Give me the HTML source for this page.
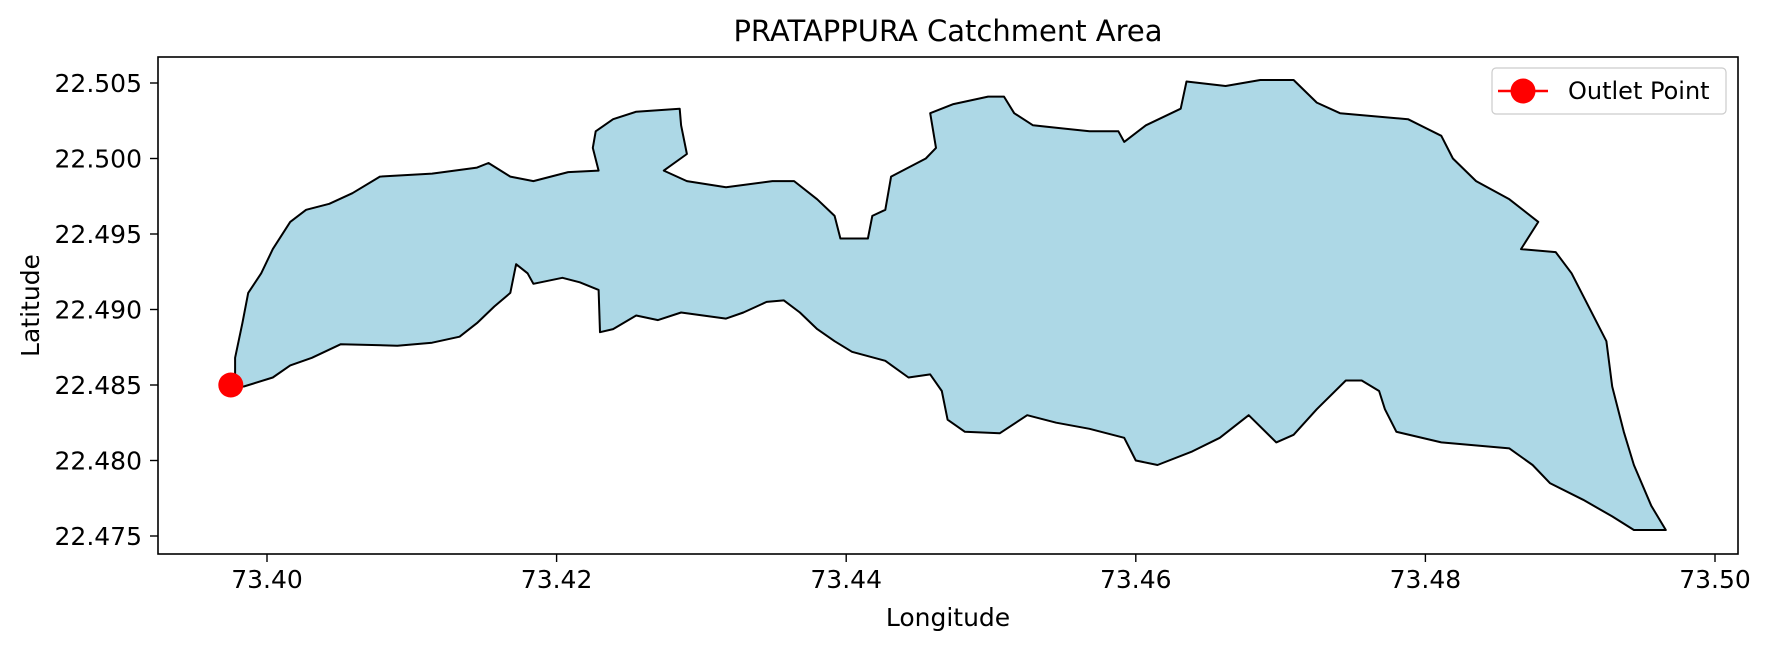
<!DOCTYPE html>
<html><head><meta charset="utf-8"><style>
body{margin:0;background:#fff;font-family:"Liberation Sans","DejaVu Sans",sans-serif}
svg text{font-family:"DejaVu Sans","Liberation Sans",sans-serif}
</style></head><body>
<svg id="chart" width="1780" height="648" viewBox="0 0 1780 648" xmlns="http://www.w3.org/2000/svg">
<rect width="1780" height="648" fill="#fff"/>
<g id="plot"></g>
</svg>
<script>
const lons=[73.3978,73.3983,73.3987,73.3996,73.4004,73.4016,73.4027,73.4043,73.4059,73.4078,73.4114,73.4145,73.4153,73.4168,73.4184,73.4208,73.4229,73.4225,73.4227,73.4239,73.4255,73.4285,73.4286,73.4290,73.4274,73.4290,73.4317,73.4349,73.4364,73.4380,73.4392,73.4396,73.4415,73.4418,73.4427,73.4431,73.4455,73.4462,73.4458,73.4474,73.4498,73.4509,73.4516,73.4529,73.4568,73.4588,73.4592,73.4607,73.4631,73.4635,73.4662,73.4686,73.4709,73.4725,73.4741,73.4788,73.4811,73.4819,73.4835,73.4858,73.4878,73.4866,73.4890,73.4901,73.4909,73.4917,73.4925,73.4929,73.4937,73.4944,73.4956,73.4966,73.4944,73.4929,73.4909,73.4886,73.4874,73.4858,73.4811,73.4780,73.4772,73.4768,73.4756,73.4745,73.4725,73.4709,73.4697,73.4678,73.4658,73.4639,73.4615,73.4600,73.4592,73.4568,73.4545,73.4525,73.4506,73.4482,73.4470,73.4466,73.4458,73.4443,73.4427,73.4404,73.4392,73.4380,73.4368,73.4357,73.4345,73.4329,73.4317,73.4286,73.4270,73.4255,73.4239,73.4230,73.4229,73.4216,73.4204,73.4184,73.4180,73.4172,73.4168,73.4157,73.4145,73.4133,73.4114,73.4090,73.4051,73.4031,73.4016,73.4004,73.3984,73.3978];
const lats=[22.4868,22.4891,22.4911,22.4924,22.4940,22.4958,22.4966,22.4970,22.4977,22.4988,22.4990,22.4994,22.4997,22.4988,22.4985,22.4991,22.4992,22.5007,22.5018,22.5026,22.5031,22.5033,22.5022,22.5003,22.4992,22.4985,22.4981,22.4985,22.4985,22.4973,22.4962,22.4947,22.4947,22.4962,22.4966,22.4988,22.5000,22.5007,22.5030,22.5036,22.5041,22.5041,22.5030,22.5022,22.5018,22.5018,22.5011,22.5022,22.5033,22.5051,22.5048,22.5052,22.5052,22.5037,22.5030,22.5026,22.5015,22.5000,22.4985,22.4973,22.4958,22.4940,22.4938,22.4924,22.4909,22.4894,22.4879,22.4849,22.4819,22.4797,22.4770,22.4754,22.4754,22.4763,22.4774,22.4785,22.4797,22.4808,22.4812,22.4819,22.4834,22.4846,22.4853,22.4853,22.4834,22.4817,22.4812,22.4830,22.4815,22.4806,22.4797,22.4800,22.4815,22.4821,22.4825,22.4830,22.4818,22.4819,22.4827,22.4846,22.4857,22.4855,22.4866,22.4872,22.4879,22.4887,22.4898,22.4906,22.4905,22.4898,22.4894,22.4898,22.4893,22.4896,22.4887,22.4885,22.4913,22.4918,22.4921,22.4917,22.4924,22.4930,22.4911,22.4902,22.4891,22.4882,22.4878,22.4876,22.4877,22.4868,22.4863,22.4855,22.4849,22.4849];
const outletLon=[73.3975];
const outletLat=[22.4850];
const xTicks=[73.40,73.42,73.44,73.46,73.48,73.50];
const yTicks=[22.475,22.480,22.485,22.490,22.495,22.500,22.505];

const L=158,R=1738,T=57,B=554;
function sx(v){return 267+(v-73.40)/0.1*1448;}
function sy(v){return 83+(22.505-v)/0.03*453;}
const NS="http://www.w3.org/2000/svg";
const g=document.getElementById('plot');
function mk(tag,attrs,parent){const e=document.createElementNS(NS,tag);for(const k in attrs)e.setAttribute(k,attrs[k]);(parent||g).appendChild(e);return e;}

let d='M'+sx(lons[0]).toFixed(1)+','+sy(lats[0]).toFixed(1);
for(let i=1;i<lons.length;i++){d+=' L'+sx(lons[i]).toFixed(1)+','+sy(lats[i]).toFixed(1);}
d+='Z';
const poly=mk('path',{d:d,fill:'#add8e6',stroke:'#000','stroke-width':2,'stroke-linejoin':'round'});



for(let i=0;i<outletLon.length;i++){
  const c=mk('circle',{cx:sx(outletLon[i]),cy:sy(outletLat[i]),r:12.5,fill:'#ff0000'});
  
  
}

const fr=mk('rect',{x:L,y:T,width:R-L,height:B-T,fill:'none',stroke:'#000','stroke-width':1.6});



xTicks.forEach(v=>{const x=sx(v);
  mk('line',{x1:x,x2:x,y1:B,y2:B+8,stroke:'#000','stroke-width':1.4});
  const t=mk('text',{x:x,y:B+34,'text-anchor':'middle','font-size':25,fill:'#000'});t.textContent=v.toFixed(2);
  
  
});
yTicks.forEach(v=>{const y=sy(v);
  mk('line',{x1:L-8,x2:L,y1:y,y2:y,stroke:'#000','stroke-width':1.4});
  const t=mk('text',{x:L-16,y:y+9,'text-anchor':'end','font-size':25,fill:'#000'});t.textContent=v.toFixed(3);
  
  
});

const title=mk('text',{x:(L+R)/2,y:41,'text-anchor':'middle','font-size':29,fill:'#000'});title.textContent='PRATAPPURA Catchment Area';


const xl=mk('text',{x:(L+R)/2,y:626,'text-anchor':'middle','font-size':25,fill:'#000'});xl.textContent='Longitude';


const yl=mk('text',{x:0,y:0,'text-anchor':'middle','font-size':25,fill:'#000',transform:'translate(39,'+((T+B)/2)+') rotate(-90)'});yl.textContent='Latitude';



const lg=mk('g',{});


mk('rect',{x:1492,y:68,width:234,height:46,rx:4,fill:'#fff',stroke:'#ccc','stroke-width':1.2},lg);
mk('line',{x1:1498,x2:1548,y1:91,y2:91,stroke:'#ff0000','stroke-width':2.5},lg);
mk('circle',{cx:1523,cy:91,r:12.5,fill:'#ff0000'},lg);
const lt=mk('text',{x:1568,y:99,'font-size':24,fill:'#000'},lg);lt.textContent='Outlet Point';


</script>
</body></html>
